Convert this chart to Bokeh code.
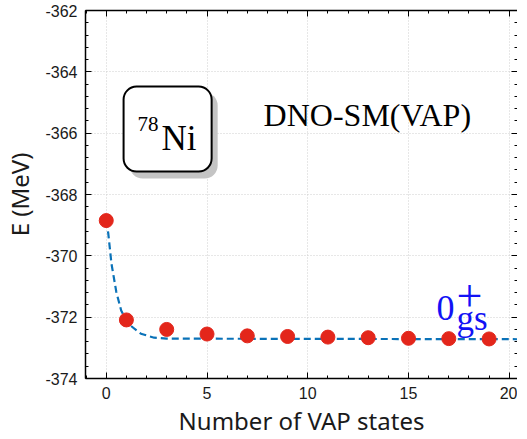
from bokeh.plotting import figure
from bokeh.models import LinearAxis, Label, BoxAnnotation, SingleIntervalTicker, PrintfTickFormatter
from bokeh.embed import file_html
from bokeh.resources import INLINE

# ---- data ----
n_states = [0, 1, 3, 5, 7, 9, 11, 13, 15, 17, 19]
energy = [-368.85, -372.09, -372.40, -372.55, -372.61, -372.63,
          -372.65, -372.67, -372.69, -372.70, -372.71]
fit_x = [0, 0.1, 0.26, 0.5, 0.74, 1.06, 1.72, 2.38, 3.0, 21.0]
fit_y = [-368.85, -369.27, -370.26, -371.18, -371.78, -372.20,
         -372.54, -372.67, -372.70, -372.72]

TICK_FONT = "Liberation Sans"
LABEL_FONT = "Noto Sans"
SERIF = "Liberation Serif"

p = figure(frame_width=432, frame_height=368, x_range=(-1.03, 20.41), y_range=(-374, -362),
           output_backend="svg", toolbar_location=None,
           min_border_left=78, min_border_top=10, min_border_right=0, min_border_bottom=0)
p.outline_line_color = None
p.background_fill_color = "white"

xt = SingleIntervalTicker(interval=5, num_minor_ticks=5)
yt = SingleIntervalTicker(interval=2, num_minor_ticks=5)
p.xaxis.ticker = xt
p.yaxis.ticker = yt
p.xaxis.formatter = PrintfTickFormatter(format="%d")
p.yaxis.formatter = PrintfTickFormatter(format="%d")


def style_axis(ax, labels=True):
    ax.axis_line_color = "black"
    ax.axis_line_width = 1.5
    ax.major_tick_in = 6
    ax.major_tick_out = 0
    ax.minor_tick_in = 3
    ax.minor_tick_out = 0
    ax.major_tick_line_color = "black"
    ax.minor_tick_line_color = "black"
    if labels:
        ax.major_label_text_font = TICK_FONT
        ax.major_label_text_font_size = "16px"
        ax.major_label_text_color = "#1a1a1a"
        ax.axis_label_text_font = LABEL_FONT
        ax.axis_label_text_font_size = "24px"
        ax.axis_label_text_font_style = "normal"
        ax.axis_label_text_color = "#1a1a1a"
    else:
        ax.major_label_text_font_size = "1px"
        ax.major_label_text_color = None
        ax.major_label_standoff = 1


style_axis(p.xaxis[0])
style_axis(p.yaxis[0])
p.xaxis.axis_label = "Number of VAP states"
p.yaxis.axis_label = "E (MeV)"
p.xaxis.major_label_standoff = 8
p.yaxis.major_label_standoff = 8
p.xaxis.axis_label_standoff = 2
p.yaxis.axis_label_standoff = 6

top = LinearAxis(ticker=xt, formatter=PrintfTickFormatter(format="%d"))
style_axis(top, labels=False)
p.add_layout(top, "above")
right = LinearAxis(ticker=yt, formatter=PrintfTickFormatter(format="%d"))
style_axis(right, labels=False)
right.axis_line_color = None
p.add_layout(right, "right")

for g in (p.xgrid[0], p.ygrid[0]):
    g.grid_line_color = "#cfcfcf"
    g.grid_line_dash = "1 2"
    g.grid_line_width = 1
p.xgrid.ticker = xt
p.ygrid.ticker = yt

# fit curve and points
p.line(fit_x, fit_y, line_color="#0a72b8", line_width=2.2, line_dash="7 4")
p.scatter(n_states, energy, size=14, fill_color="#e3261b", line_color="#e3261b")

# nucleus box with shadow
p.add_layout(BoxAnnotation(left=1.16, right=5.53, top=-364.67, bottom=-367.48,
                           fill_color="#c4c4c4", fill_alpha=1, line_color=None,
                           border_radius=13, level="overlay"))
p.add_layout(BoxAnnotation(left=0.86, right=5.23, top=-364.48, bottom=-367.25,
                           fill_color="white", fill_alpha=1, line_color="black",
                           line_width=2, line_alpha=1, border_radius=13, level="overlay"))
p.add_layout(Label(x=1.55, y=-365.945, y_offset=7, text="78", text_font=SERIF,
                   text_font_size="21px", text_color="black", text_baseline="alphabetic",
                   level="overlay"))
p.add_layout(Label(x=2.74, y=-366.565, y_offset=12, text="Ni", text_font=SERIF,
                   text_font_size="35px", text_color="black", text_baseline="alphabetic",
                   level="overlay"))

p.add_layout(Label(x=7.81, y=-365.75, y_offset=11, text="DNO-SM(VAP)", text_font=SERIF,
                   text_font_size="32px", text_color="black", text_baseline="alphabetic"))

# state label 0+_gs
blue = "#1212f5"
p.add_layout(Label(x=16.39, y=-372.14, y_offset=13, text="0", text_font=SERIF,
                   text_font_size="36px", text_color=blue, text_baseline="alphabetic"))
p.add_layout(Label(x=17.38, y=-371.78, y_offset=15, text="+", text_font=SERIF,
                   text_font_size="46px", text_color=blue, text_baseline="alphabetic"))
p.add_layout(Label(x=17.38, y=-372.40, y_offset=11, text="gs", text_font=SERIF,
                   text_font_size="35px", text_color=blue, text_baseline="alphabetic"))

open("out.html", "w").write(file_html(p, INLINE))
